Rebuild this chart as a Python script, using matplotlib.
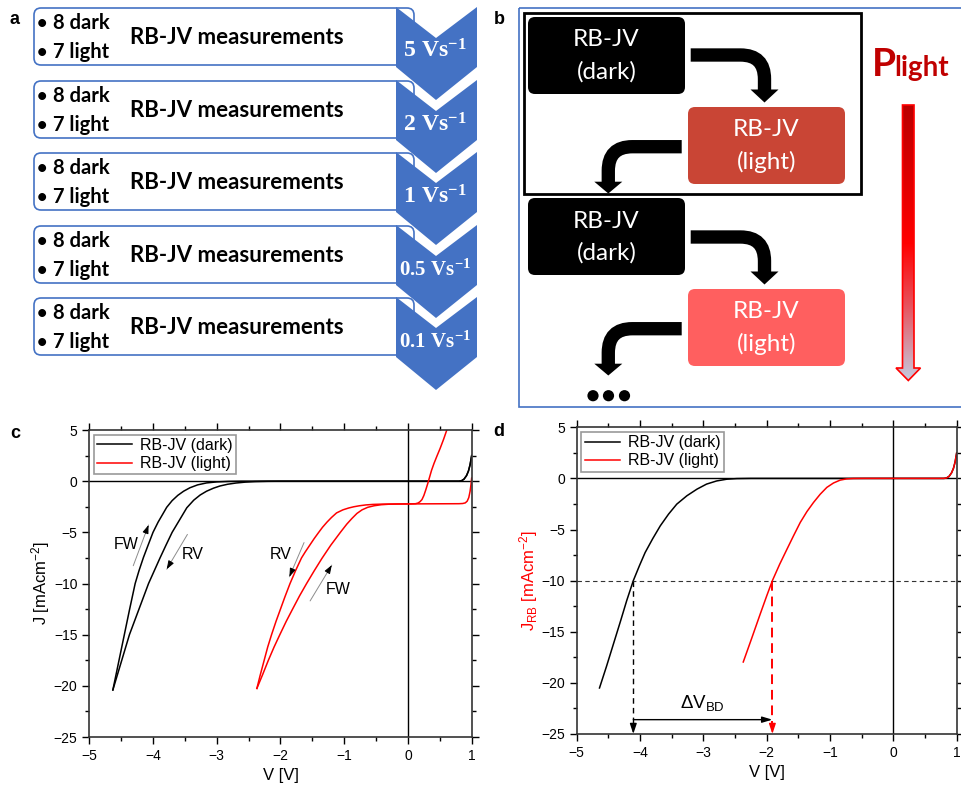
import matplotlib
matplotlib.use('Agg')
import numpy as np
import matplotlib.pyplot as plt
from matplotlib.patches import FancyBboxPatch, Polygon, Rectangle, PathPatch, Circle
from matplotlib.path import Path
from matplotlib.colors import LinearSegmentedColormap
from matplotlib.ticker import MultipleLocator

plt.rcParams['font.family'] = ['Liberation Sans', 'DejaVu Sans']
plt.rcParams['mathtext.fontset'] = 'custom'
plt.rcParams['mathtext.rm'] = 'Liberation Sans'
plt.rcParams['mathtext.it'] = 'Liberation Sans:italic'
plt.rcParams['mathtext.bf'] = 'Liberation Sans:bold'
plt.rcParams['mathtext.sf'] = 'Liberation Serif:bold'

# --- scan protocol (panel a) ---
scan_rates = ['5', '2', '1', '0.5', '0.1']
n_dark, n_light = 8, 7

# --- panel c: raw RB-JV loops, V [V] / J [mA cm^-2] ---
dark_fw_v = [-4.63, -4.58, -4.53, -4.49, -4.45, -4.41, -4.37, -4.325, -4.28, -4.22, -4.15,
             -4.08, -4.0, -3.92, -3.85, -3.785, -3.70, -3.61, -3.52, -3.42, -3.30, -3.16,
             -3.0, -2.82, -2.6, 0.0, 0.80, 0.84, 0.88, 0.92, 0.95, 0.975, 1.0]
dark_fw_j = [-20.4, -18.9, -17.4, -16.2, -15.0, -13.8, -12.6, -11.3, -10.0, -8.75, -7.45,
             -6.3, -5.0, -4.0, -3.25, -2.55, -1.9, -1.38, -0.98, -0.64, -0.36, -0.17,
             -0.07, -0.02, 0.0, 0.0, 0.0, 0.04, 0.2, 0.55, 1.0, 1.6, 2.5]
dark_rv_v = [1.0, 0.975, 0.95, 0.92, 0.88, 0.84, 0.80, 0.0, -2.0, -2.2, -2.4, -2.55, -2.7,
             -2.83, -2.95, -3.05, -3.16, -3.26, -3.36, -3.47, -3.58, -3.70, -3.80, -3.89,
             -3.98, -4.07, -4.145, -4.22, -4.295, -4.37, -4.435, -4.50, -4.565, -4.63]
dark_rv_j = [2.5, 1.6, 1.0, 0.55, 0.2, 0.04, 0.0, 0.0, 0.0, -0.01, -0.04, -0.09, -0.18,
             -0.3, -0.47, -0.68, -0.98, -1.35, -1.85, -2.6, -3.75, -5.0, -6.3, -7.5,
             -8.75, -10.0, -11.25, -12.5, -13.75, -15.0, -16.35, -17.7, -19.05, -20.4]

light_fw_v = [-2.37, -2.28, -2.19, -2.10, -2.01, -1.91, -1.81, -1.70, -1.59, -1.47, -1.35,
              -1.21, -1.06, -0.96, -0.88, -0.80, -0.72, -0.63, -0.53, -0.42, -0.30, -0.17,
              0.05, 0.12, 0.16, 0.19, 0.22, 0.25, 0.28, 0.31, 0.34, 0.37, 0.41, 0.455,
              0.505, 0.56, 0.61, 0.66]
light_fw_j = [-20.25, -18.9, -17.5, -16.2, -15.0, -13.7, -12.5, -11.2, -10.0, -8.75, -7.55,
              -6.25, -5.0, -4.2, -3.65, -3.15, -2.8, -2.55, -2.4, -2.3, -2.25, -2.23,
              -2.22, -2.2, -2.13, -2.0, -1.8, -1.4, -0.85, -0.25, 0.4, 1.05, 1.75, 2.45,
              3.2, 4.1, 5.0, 5.8]
light_rv_v = [1.0, 0.99, 0.975, 0.955, 0.93, 0.90, 0.86, 0.80, 0.0, -0.40, -0.55, -0.66,
              -0.76, -0.85, -0.93, -1.02, -1.12, -1.20, -1.27, -1.34, -1.40, -1.47, -1.54,
              -1.61, -1.67, -1.76, -1.85, -1.93, -2.00, -2.07, -2.14, -2.20, -2.26, -2.32,
              -2.37]
light_rv_j = [0.3, -0.3, -1.0, -1.6, -1.95, -2.12, -2.18, -2.2, -2.22, -2.24, -2.27, -2.32,
              -2.4, -2.5, -2.62, -2.8, -3.1, -3.55, -4.0, -4.5, -5.0, -5.6, -6.25, -6.9,
              -7.5, -8.7, -10.0, -11.3, -12.5, -13.7, -15.0, -16.2, -17.6, -19.0, -20.25]

# --- panel d: photocurrent-corrected J_RB ---
rb_dark_v = [-4.64, -4.53, -4.42, -4.31, -4.21, -4.106, -4.01, -3.92, -3.80, -3.68, -3.55,
             -3.42, -3.26, -3.10, -2.95, -2.79, -2.63, -2.47, -2.25, 0.0, 0.80, 0.84, 0.88,
             0.92, 0.95, 0.975, 1.0]
rb_dark_j = [-20.5, -18.4, -16.2, -14.0, -11.95, -10.0, -8.55, -7.26, -5.9, -4.64, -3.5,
             -2.52, -1.7, -1.05, -0.56, -0.25, -0.08, -0.02, 0.0, 0.0, 0.0, 0.04, 0.2,
             0.55, 1.0, 1.6, 2.5]
rb_light_v = [-2.37, -2.24, -2.104, -2.0, -1.91, -1.795, -1.68, -1.575, -1.47, -1.365,
              -1.26, -1.155, -1.05, -0.945, -0.84, -0.74, -0.63, -0.45, 0.0, 0.80, 0.84,
              0.88, 0.92, 0.95, 0.975, 1.0]
rb_light_j = [-17.96, -15.7, -13.3, -11.5, -10.0, -8.4, -6.93, -5.6, -4.31, -3.25,
              -2.35, -1.55, -0.88, -0.45, -0.17, -0.05, -0.01, 0.0, 0.0, 0.0, 0.04,
              0.2, 0.55, 1.0, 1.6, 2.5]
j_ref = -10.0
v_bd_dark = -4.106
v_bd_light = -1.91

BLUE = '#4472C4'
RED = '#FF0000'

fig = plt.figure(figsize=(9.61, 7.86), dpi=100)

# overlay in pixel units for the two schematic panels
ov = fig.add_axes([0, 0, 1, 1])
ov.set_xlim(0, 961)
ov.set_ylim(786, 0)
ov.axis('off')

# ---------------- panel a ----------------
box_tops = [8, 81, 153, 226, 298]
for top, rate in zip(box_tops, scan_rates):
    ov.add_patch(FancyBboxPatch((34, top), 380, 57,
                                boxstyle='round,pad=0,rounding_size=7',
                                fc='white', ec=BLUE, lw=1.2))
    t, b = top - 1, top + 59
    ov.add_patch(Polygon([(396, t), (436, t + 31), (477, t), (477, b),
                          (436, b + 33), (396, b)], closed=True, fc=BLUE, ec='none'))
    ov.text(37, top + 21, '•', family='Lato', weight='bold', fontsize=13, va='baseline')
    ov.text(53, top + 21, f'{n_dark} dark', family='Lato', weight='bold', fontsize=14.5,
            va='baseline')
    ov.text(37, top + 50, '•', family='Lato', weight='bold', fontsize=13, va='baseline')
    ov.text(53, top + 50, f'{n_light} light', family='Lato', weight='bold', fontsize=14.5,
            va='baseline')
    ov.text(130, top + 36, 'RB-JV measurements', family='Lato', weight='bold',
            fontsize=16, va='baseline')
    ov.text(435, top + 50, r'$\mathsf{' + rate + r'\ Vs^{-1}}$', color='white',
            fontsize=17 if len(rate) == 1 else 15, ha='center', va='baseline')

ov.text(15, 20, 'a', fontsize=13, weight='bold', ha='center', va='center')
ov.text(499, 20, 'b', fontsize=13, weight='bold', ha='center', va='center')
ov.text(15, 433, 'c', fontsize=13, weight='bold', ha='center', va='center')
ov.text(499, 432, 'd', fontsize=13, weight='bold', ha='center', va='center')

# ---------------- panel b ----------------
ov.add_patch(Rectangle((519, 8), 445, 399, fill=False, ec=BLUE, lw=1.2))
ov.add_patch(Rectangle((523.5, 12.5), 337, 181, fill=False, ec='black', lw=2.0))

steps = [(528, 17, '#000000', '(dark)'), (688, 107, '#C94535', '(light)'),
         (528, 198, '#000000', '(dark)'), (688, 289, '#FF5F5F', '(light)')]
for x0, y0, col, cond in steps:
    ov.add_patch(FancyBboxPatch((x0, y0), 157, 77, boxstyle='round,pad=0,rounding_size=7',
                                fc=col, ec='none'))
    ov.text(x0 + 78.5, y0 + 23, 'RB-JV', color='white', family='Lato', fontsize=17.5,
            ha='center', va='center')
    ov.text(x0 + 78.5, y0 + 55, cond, color='white', family='Lato', fontsize=17.5,
            ha='center', va='center')


def elbow(x_start, y_shaft, x_down, y_head, tip):
    # thick elbow arrow: horizontal run, rounded bend, downward head
    sgn = 1 if x_down > x_start else -1
    r = 24
    verts = [(x_start, y_shaft), (x_down - sgn * r, y_shaft), (x_down, y_shaft),
             (x_down, y_shaft + r), (x_down, y_head + 1)]
    codes = [Path.MOVETO, Path.LINETO, Path.CURVE3, Path.CURVE3, Path.LINETO]
    ov.add_patch(PathPatch(Path(verts, codes), fc='none', ec='black', lw=9.6,
                           capstyle='butt', joinstyle='miter'))
    ov.add_patch(Polygon([(x_down - 14, y_head), (x_down + 14, y_head), (x_down, tip)],
                         closed=True, fc='black', ec='none'))


for dy in (0, 182):
    elbow(690.7, 55 + dy, 764.5, 89.5 + dy, 102.5 + dy)
    elbow(681.7, 146.7 + dy, 608.3, 181.7 + dy, 193.5 + dy)

for cx in (593, 608.5, 624.5):
    ov.add_patch(Circle((cx, 395.7), 5.6, fc='black', ec='none'))

ov.text(872, 76, 'P', color='#C00000', family='Lato', weight='bold', fontsize=28, va='baseline')
ov.text(894, 76, 'light', color='#C00000', family='Lato', weight='bold', fontsize=20, va='baseline')

# gradient arrow for decreasing light intensity
arrow_pts = [(902.5, 105), (914, 105), (914, 368), (920.5, 368), (908.3, 380.5),
             (896, 368), (902.5, 368)]
grad_cmap = LinearSegmentedColormap.from_list(
    'plight', [(0, '#BA0000'), (0.5, '#FF0000'), (0.72, '#E8505A'), (1, '#C4CBE0')])
grad = np.linspace(0, 1, 256).reshape(-1, 1)
im = ov.imshow(grad, cmap=grad_cmap, extent=(896, 921, 381, 105), origin='upper',
               aspect='auto', zorder=2)
arrow_poly = Polygon(arrow_pts, closed=True, fc='none', ec='#FF0000', lw=1.2, zorder=3)
ov.add_patch(arrow_poly)
im.set_clip_path(arrow_poly)
ov.set_xlim(0, 961)
ov.set_ylim(786, 0)


# ---------------- panels c and d ----------------
def style_axes(ax):
    ax.set_xlim(-5, 1)
    ax.set_ylim(-25, 5)
    ax.xaxis.set_major_locator(MultipleLocator(1))
    ax.xaxis.set_minor_locator(MultipleLocator(0.5))
    ax.yaxis.set_major_locator(MultipleLocator(5))
    ax.yaxis.set_minor_locator(MultipleLocator(2.5))
    ax.tick_params(which='both', direction='out', top=True, right=True, width=1.0,
                   labelsize=10, colors='black')
    ax.tick_params(which='major', length=5)
    ax.tick_params(which='minor', length=3)
    for sp in ax.spines.values():
        sp.set_linewidth(1.2)
        sp.set_color('#333333')
    ax.axhline(0, color='black', lw=1.0, zorder=1)
    ax.axvline(0, color='black', lw=1.0, zorder=1)
    ax.set_xlabel('V [V]', fontsize=12, labelpad=4)
    leg = ax.legend(loc='upper left', fancybox=False, edgecolor='0.6', fontsize=11.5,
                    handlelength=2.2, borderaxespad=0.3, borderpad=0.2, labelspacing=0.2,
                    handletextpad=0.5, framealpha=1)
    leg.get_frame().set_linewidth(1.2)


def scan_arrow(ax, tail, head):
    ax.annotate('', xy=head, xytext=tail,
                arrowprops=dict(arrowstyle='-', color='0.55', lw=0.7, shrinkA=0, shrinkB=0))
    mid = (tail[0] + 0.8 * (head[0] - tail[0]), tail[1] + 0.8 * (head[1] - tail[1]))
    ax.annotate('', xy=head, xytext=mid,
                arrowprops=dict(arrowstyle='-|>,head_length=0.5,head_width=0.18',
                                color='black', lw=0.7, shrinkA=0, shrinkB=0))


axc = fig.add_axes([0.0929, 0.0623, 0.3979, 0.3906])
axc.plot(dark_fw_v, dark_fw_j, color='black', lw=1.1, label='RB-JV (dark)')
axc.plot(dark_rv_v, dark_rv_j, color='black', lw=1.1)
axc.plot(light_fw_v, light_fw_j, color=RED, lw=1.1, label='RB-JV (light)')
axc.plot(light_rv_v, light_rv_j, color=RED, lw=1.1)
style_axes(axc)
axc.set_ylabel(r'J [mAcm$^{-2}$]', fontsize=12, labelpad=1)

scan_arrow(axc, (-4.31, -8.26), (-4.07, -4.28))
axc.text(-4.42, -6.17, 'FW', fontsize=11.5, ha='center', va='center')
scan_arrow(axc, (-3.46, -5.2), (-3.785, -8.6))
axc.text(-3.37, -7.15, 'RV', fontsize=11.5, ha='center', va='center')
scan_arrow(axc, (-1.63, -6.0), (-1.86, -9.34))
axc.text(-1.99, -7.2, 'RV', fontsize=11.5, ha='center', va='center')
scan_arrow(axc, (-1.535, -11.7), (-1.195, -8.2))
axc.text(-1.09, -10.6, 'FW', fontsize=11.5, ha='center', va='center')

axd = fig.add_axes([0.6001, 0.0662, 0.3954, 0.3902])
axd.plot(rb_dark_v, rb_dark_j, color='black', lw=1.1, label='RB-JV (dark)')
axd.plot(rb_light_v, rb_light_j, color=RED, lw=1.1, label='RB-JV (light)')
style_axes(axd)
axd.set_ylabel(r'J$_{\mathrm{RB}}$ [mAcm$^{-2}$]', fontsize=12, color=RED, labelpad=1)

axd.axhline(j_ref, color='#333333', lw=0.8, ls=(0, (4, 3)))
axd.plot([v_bd_dark, v_bd_dark], [j_ref, -24.2], color='black', lw=1.0, ls=(0, (4, 3)))
axd.annotate('', xy=(v_bd_dark, -25), xytext=(v_bd_dark, -24.0),
             arrowprops=dict(arrowstyle='-|>,head_length=0.6,head_width=0.2', color='black',
                             lw=1.0, shrinkA=0, shrinkB=0))
axd.plot([v_bd_light, v_bd_light], [j_ref, -24.2], color=RED, lw=1.4, ls=(0, (5, 3)))
axd.annotate('', xy=(v_bd_light, -25), xytext=(v_bd_light, -24.0),
             arrowprops=dict(arrowstyle='-|>,head_length=0.6,head_width=0.2', color=RED,
                             lw=1.0, shrinkA=0, shrinkB=0))
axd.annotate('', xy=(v_bd_light, -23.6), xytext=(v_bd_dark, -23.6),
             arrowprops=dict(arrowstyle='-|>,head_length=0.6,head_width=0.18', color='black',
                             lw=1.0, shrinkA=0, shrinkB=0))
axd.text((v_bd_dark + v_bd_light) / 2, -22.0, r'$\Delta$V$_{\mathrm{BD}}$', fontsize=13.5,
         ha='center', va='center')

fig.savefig('out.png', dpi=100)
